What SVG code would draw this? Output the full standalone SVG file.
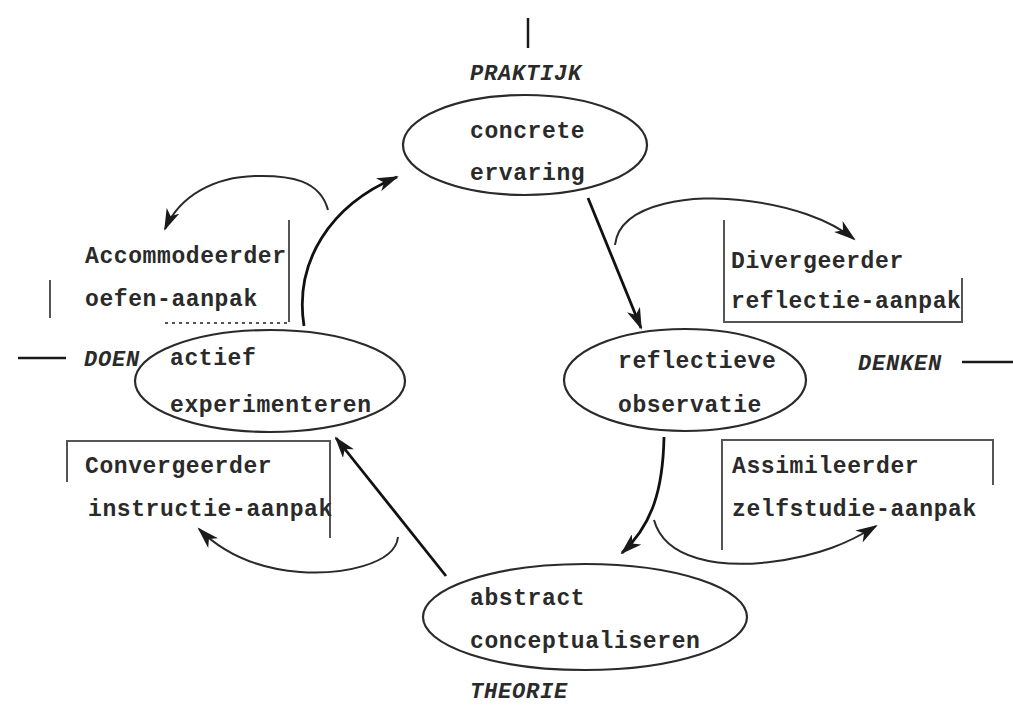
<svg xmlns="http://www.w3.org/2000/svg" width="1013" height="706" viewBox="0 0 1013 706">
<defs>
<marker id="ah" markerUnits="userSpaceOnUse" markerWidth="24" markerHeight="14" refX="20" refY="7" orient="auto">
<path d="M0,0 L22,7 L0,14 L6,7 z" fill="#1a1a1a"/>
</marker>
<style>
.t{font-family:"Liberation Mono",monospace;font-weight:bold;font-size:23px;fill:#2a2a2a;letter-spacing:0.6px}
.i{font-family:"Liberation Mono",monospace;font-weight:bold;font-style:italic;font-size:22px;fill:#2a2a2a;letter-spacing:0.8px}
.el{fill:none;stroke:#2a2a2a;stroke-width:2.2}
.bx{fill:none;stroke:#555;stroke-width:2}
.main{fill:none;stroke:#111;stroke-width:2.8;marker-end:url(#ah)}
.loop{fill:none;stroke:#2a2a2a;stroke-width:2;marker-end:url(#ah)}
.ax{stroke:#1a1a1a;stroke-width:2.5}
</style>
</defs>
<rect width="1013" height="706" fill="#ffffff"/>

<g id="axes">
<line class="ax" x1="528" y1="18" x2="528" y2="48"/>
<line class="ax" x1="18" y1="358" x2="66" y2="358"/>
<line class="ax" x1="962" y1="362" x2="1013" y2="362"/>
</g>

<g id="labels">
<text class="i" x="470" y="80">PRAKTIJK</text>
<text class="i" x="84" y="366">DOEN</text>
<text class="i" x="858" y="370">DENKEN</text>
<text class="i" x="470" y="698">THEORIE</text>
</g>

<g id="concrete-ervaring">
<ellipse class="el" cx="525" cy="145" rx="122" ry="50"/>
<text class="t" x="470" y="138">concrete</text>
<text class="t" x="470" y="180">ervaring</text>
</g>

<g id="reflectieve-observatie">
<ellipse class="el" cx="685" cy="380" rx="121" ry="51"/>
<text class="t" x="618" y="368">reflectieve</text>
<text class="t" x="618" y="412">observatie</text>
</g>

<g id="abstract-conceptualiseren">
<ellipse class="el" cx="585" cy="617" rx="162" ry="53"/>
<text class="t" x="470" y="605">abstract</text>
<text class="t" x="470" y="648">conceptualiseren</text>
</g>

<g id="actief-experimenteren">
<ellipse class="el" cx="270" cy="381" rx="135" ry="51"/>
<text class="t" x="170" y="365">actief</text>
<text class="t" x="170" y="412">experimenteren</text>
</g>

<g id="accommodeerder">
<line class="bx" x1="50" y1="280" x2="50" y2="318"/>
<line class="bx" x1="289" y1="220" x2="289" y2="322"/>
<line class="bx" x1="165" y1="323" x2="287" y2="323" stroke-dasharray="3,4"/>
<text class="t" x="85" y="263">Accommodeerder</text>
<text class="t" x="85" y="306">oefen-aanpak</text>
</g>

<g id="divergeerder">
<path class="bx" d="M724,220 L724,322 L962,322 L962,278"/>
<text class="t" x="731" y="268">Divergeerder</text>
<text class="t" x="731" y="308">reflectie-aanpak</text>
</g>

<g id="convergeerder">
<path class="bx" d="M67,482 L67,441 L330,441 L330,538"/>
<text class="t" x="85" y="473">Convergeerder</text>
<text class="t" x="88" y="516">instructie-aanpak</text>
</g>

<g id="assimileerder">
<path class="bx" d="M722,550 L722,440 L993,440 L993,485"/>
<text class="t" x="732" y="473">Assimileerder</text>
<text class="t" x="732" y="516">zelfstudie-aanpak</text>
</g>

<g id="connectors">
<path class="main" d="M588,198 L641,328"/>
<path class="main" d="M664,437 C663,490 652,525 622,553"/>
<path class="main" d="M446,576 L336,438"/>
<path class="main" d="M304,326 C294,262 330,205 397,177"/>
<path class="loop" d="M615,245 C620,200 700,195 740,200 C790,205 830,220 854,239"/>
<path class="loop" d="M328,210 C320,180 290,175 255,176 C215,177 180,195 165,229"/>
<path class="loop" d="M654,520 C665,560 720,568 770,562 C820,556 850,542 876,526"/>
<path class="loop" d="M398,537 C395,565 340,575 300,572 C250,568 220,550 199,529"/>
</g>
</svg>
